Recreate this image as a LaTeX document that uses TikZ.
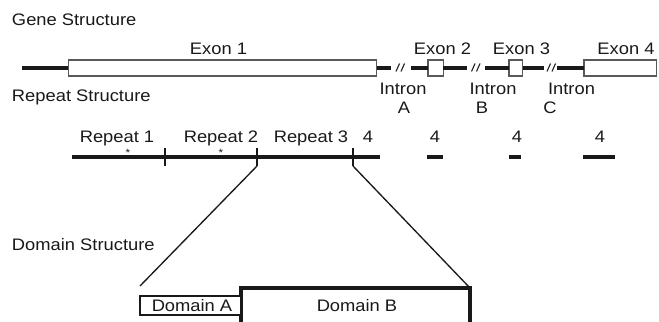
\documentclass[tikz,border=0pt]{standalone}
\usepackage{fontspec}
\setmainfont{Liberation Sans}[FakeStretch=1.1]
\begin{document}
\begin{tikzpicture}[x=0.75pt,y=-0.75pt,
  lbl/.style={inner sep=0pt,outer sep=0pt,text=black!90,font=\fontsize{12.5pt}{15pt}\selectfont},
  exon/.style={draw=black!65,fill=white,line width=0.9pt,inner sep=0pt,outer sep=0pt,minimum height=16*0.75pt},
  gline/.style={line width=2.4pt,black!90},
  brk/.style={line width=0.85pt,black!85},
  rline/.style={line width=2.4pt,black!90},
  tick/.style={line width=1.9pt,black!90},
  diag/.style={line width=1pt,black!90},
  dom/.style={draw=black!90,fill=white,inner sep=0pt,outer sep=0pt}]
\useasboundingbox (0,0) rectangle (659,321);
% section titles
\node[lbl,anchor=base west] (gs) at (12,26) {Gene Structure};
\node[lbl,anchor=base west] (rs) at (12,101.5) {Repeat Structure};
\node[lbl,anchor=base west] (ds) at (12,250) {Domain Structure};
% gene structure
\coordinate (g0) at (22,68);
\node[exon,minimum width=308.4*0.75pt] (e1) at (222.5,68) {};
\node[exon,minimum width=15.3*0.75pt] (e2) at (435.7,68) {};
\node[exon,minimum width=13.5*0.75pt] (e3) at (515.8,68) {};
\node[exon,minimum width=72.5*0.75pt] (e4) at (620.2,68) {};
\coordinate (a1) at (391,68); \coordinate (a2) at (411,68);
\coordinate (b1) at (467,68); \coordinate (b2) at (485,68);
\coordinate (c1) at (544,68); \coordinate (c2) at (557,68);
\draw[gline] (g0) -- (e1.west);
\draw[gline] (e1.east) -- (a1);
\draw[gline] (a2) -- (e2.west);
\draw[gline] (e2.east) -- (b1);
\draw[gline] (b2) -- (e3.west);
\draw[gline] (e3.east) -- (c1);
\draw[gline] (c2) -- (e4.west);
% break marks
\foreach \c/\o in {a1/6.5,b1/6,c1/4.5}{
  \draw[brk] ([xshift=(\o-1.5)*0.75pt,yshift=-3.5*0.75pt]\c) -- ++(3.5,-8);
  \draw[brk] ([xshift=(\o+3.5)*0.75pt,yshift=-3.5*0.75pt]\c) -- ++(3.5,-8);
}
\node[lbl,anchor=base] (le1) at (218.5,55) {Exon 1};
\node[lbl,anchor=base] (le2) at (442.5,55) {Exon 2};
\node[lbl,anchor=base] (le3) at (521.5,55) {Exon 3};
\node[lbl,anchor=base] (le4) at (626,55) {Exon 4};
\node[lbl,anchor=base] (ia) at (403,94) {Intron};
\node[lbl,anchor=base] (ib) at (493,94) {Intron};
\node[lbl,anchor=base] (ic) at (571.5,94) {Intron};
\node[lbl,anchor=base] (la) at (404,113) {A};
\node[lbl,anchor=base] (lb) at (482,113) {B};
\node[lbl,anchor=base] (lc) at (550,113) {C};
% repeat structure
\coordinate (r0) at (72,157);
\coordinate (r1) at (165,157);
\coordinate (r2) at (257,157);
\coordinate (r3) at (353,157);
\coordinate (r4) at (380,157);
\draw[rline] (r0) -- (r4);
\foreach \t in {r1,r2,r3}{
  \draw[tick] ([yshift=9*0.75pt]\t) -- ([yshift=-9*0.75pt]\t);
}
\coordinate (s1a) at (427,157); \coordinate (s1b) at (443,157);
\coordinate (s2a) at (509,157); \coordinate (s2b) at (521,157);
\coordinate (s3a) at (583,157); \coordinate (s3b) at (615,157);
\draw[rline] (s1a) -- (s1b);
\draw[rline] (s2a) -- (s2b);
\draw[rline] (s3a) -- (s3b);
\node[lbl,font=\fontsize{8pt}{9pt}\selectfont] (st1) at (128,152.5) {*};
\node[lbl,font=\fontsize{8pt}{9pt}\selectfont] (st2) at (221,152.5) {*};
\node[lbl,anchor=base] (rp1) at (117,142) {Repeat 1};
\node[lbl,anchor=base] (rp2) at (221,142) {Repeat 2};
\node[lbl,anchor=base] (rp3) at (311,142) {Repeat 3};
\node[lbl,anchor=base] (f1) at (368,142) {4};
\node[lbl,anchor=base] (f2) at (435,142) {4};
\node[lbl,anchor=base] (f3) at (517,142) {4};
\node[lbl,anchor=base] (f4) at (600,142) {4};
% domain structure
\node[dom,line width=2.6pt,minimum width=229*0.75pt,minimum height=80*0.75pt] (dB) at (355.5,328) {};
\node[dom,line width=2pt,minimum width=101*0.75pt,minimum height=19*0.75pt] (dA) at (190.5,305.5) {};
\node[lbl] (tA) at (192,305.5) {Domain A};
\node[lbl] (tB) at (357,305.5) {Domain B};
\coordinate (dl) at (140,286);
\draw[diag] ([yshift=-9*0.75pt]r2) -- (dl);
\draw[diag] ([yshift=-9*0.75pt]r3) -- (dB.north east);
\end{tikzpicture}
\end{document}
